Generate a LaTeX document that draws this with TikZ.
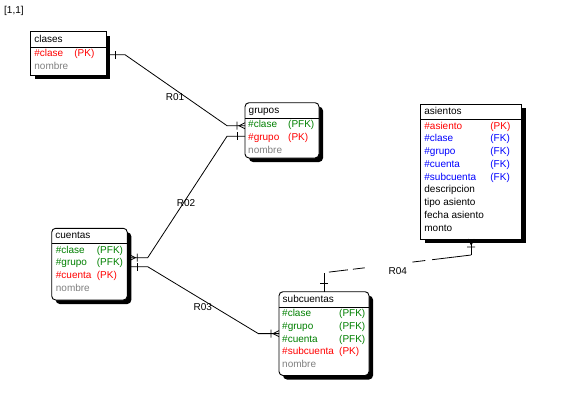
\documentclass[tikz,border=0pt]{standalone}
\usepackage{fontspec}
\setmainfont{Liberation Sans}
\usetikzlibrary{calc,shadows}

\definecolor{pkred}{RGB}{255,0,0}
\definecolor{pfkgreen}{RGB}{0,128,0}
\definecolor{fkblue}{RGB}{0,0,255}
\definecolor{attrgray}{RGB}{128,128,128}
\newcommand{\erfont}{\fontsize{10}{12}\selectfont}

\tikzset{
  entity/.style={draw, line width=0.9pt, fill=white, inner sep=0pt, outer sep=0pt,
    drop shadow={shadow xshift=4pt, shadow yshift=-4pt, fill=black, opacity=1}},
  entityr/.style={entity, rounded corners=4pt},
  attr/.style={anchor=mid west, inner sep=0pt, font=\erfont},
  rel/.style={line width=0.8pt},
  lbl/.style={inner sep=0pt, font=\erfont},
  onemark/.pic={\draw[rel] (-8,-4) -- (-8,4);},
  manymark/.pic={\draw[rel] (-8,-4) -- (-8,4) (0,-3) -- (-6,0) -- (0,3);},
}

\begin{document}
\begin{tikzpicture}[x=1pt,y=-1pt]
    \useasboundingbox (0,0) rectangle (567,412);

    \node[attr] (view) at (4,11) {[1,1]};

    % entities
    \node[entity, minimum width=75.3pt, minimum height=43.3pt] (clases) at (68.35,53.35) {};
    \node[entityr, minimum width=74pt, minimum height=55.3pt] (grupos) at (282,130.35) {};
    \node[entity, minimum width=101pt, minimum height=134.7pt] (asientos) at (471.2,171.65) {};
    \node[entityr, minimum width=75.6pt, minimum height=71.7pt] (cuentas) at (89.5,264.15) {};
    \node[entityr, minimum width=90pt, minimum height=83.8pt] (subcuentas) at (324,333.6) {};

    % headers and separators
    \foreach \e in {clases,grupos,asientos,cuentas,subcuentas} {
        \node[attr] (\e-h) at ($(\e.north west)+(3.5,8)$) {\e};
        \draw[line width=0.9pt] ($(\e.north west)+(0,15.5)$) -- ($(\e.north east)+(0,15.5)$);
    }

    % attributes
    \foreach \txt/\key/\col [count=\i] in {\#clase/(PK)/pkred, nombre//attrgray} {
        \node[attr,\col] (cl-\i) at ($(clases.north west)+(3.5,9.55+12.75*\i)$) {\txt};
        \node[attr,\col] (cl-\i k) at ($(clases.north west)+(43.5,9.55+12.75*\i)$) {\key};
    }
    \foreach \txt/\key/\col [count=\i] in {\#clase/(PFK)/pfkgreen, \#grupo/(PK)/pkred, nombre//attrgray} {
        \node[attr,\col] (gr-\i) at ($(grupos.north west)+(3,9.55+12.75*\i)$) {\txt};
        \node[attr,\col] (gr-\i k) at ($(grupos.north west)+(43,9.55+12.75*\i)$) {\key};
    }
    \foreach \txt/\key/\col [count=\i] in {\#asiento/(PK)/pkred, \#clase/(FK)/fkblue,
        \#grupo/(FK)/fkblue, \#cuenta/(FK)/fkblue, \#subcuenta/(FK)/fkblue,
        descripcion//black, tipo asiento//black, fecha asiento//black, monto//black} {
        \node[attr,\col] (as-\i) at ($(asientos.north west)+(3.5,9.55+12.75*\i)$) {\txt};
        \node[attr,\col] (as-\i k) at ($(asientos.north west)+(69.5,9.55+12.75*\i)$) {\key};
    }
    \foreach \txt/\key/\col [count=\i] in {\#clase/(PFK)/pfkgreen, \#grupo/(PFK)/pfkgreen,
        \#cuenta/(PK)/pkred, nombre//attrgray} {
        \node[attr,\col] (cu-\i) at ($(cuentas.north west)+(4,9.55+12.75*\i)$) {\txt};
        \node[attr,\col] (cu-\i k) at ($(cuentas.north west)+(45,9.55+12.75*\i)$) {\key};
    }
    \foreach \txt/\key/\col [count=\i] in {\#clase/(PFK)/pfkgreen, \#grupo/(PFK)/pfkgreen,
        \#cuenta/(PFK)/pfkgreen, \#subcuenta/(PK)/pkred, nombre//attrgray} {
        \node[attr,\col] (sc-\i) at ($(subcuentas.north west)+(3,9.55+12.75*\i)$) {\txt};
        \node[attr,\col] (sc-\i k) at ($(subcuentas.north west)+(60,9.55+12.75*\i)$) {\key};
    }

    % relationship end points
    \coordinate (r01-a) at ($(clases.north east)+(0,23)$);
    \coordinate (r01-b) at ($(grupos.north west)+(0,23)$);
    \coordinate (r02-a) at ($(cuentas.north east)+(0,29.4)$);
    \coordinate (r02-b) at ($(grupos.north west)+(0,33.6)$);
    \coordinate (r03-a) at ($(cuentas.north east)+(0,38.4)$);
    \coordinate (r03-b) at (subcuentas.west);

    % R01 clases -> grupos
    \draw[rel] (r01-a) -- ++(19,0) -- ($(r01-b)+(-18,0)$) -- (r01-b);
    \pic[rotate=180] at ($(r01-a)+(1,0)$) {onemark};
    \pic at (r01-b) {manymark};
    \node[lbl] (r01-l) at (175,96.7) {R01};

    % R02 grupos -> cuentas
    \draw[rel] (r02-a) -- ++(20.4,0) -- ($(r02-b)+(-18,0)$) -- (r02-b);
    \pic at (r02-b) {onemark};
    \pic[rotate=180] at ($(r02-a)+(2,0)$) {manymark};
    \node[lbl] (r02-l) at (186,203) {R02};

    % R03 cuentas -> subcuentas
    \draw[rel] (r03-a) -- ++(20.4,0) -- ($(r03-b)+(-20.7,0)$) -- (r03-b);
    \pic[rotate=180] at ($(r03-a)+(2,0)$) {onemark};
    \pic at (r03-b) {manymark};
    \node[lbl] (r03-l) at (202.7,306.7) {R03};

    % R04 subcuentas -> asientos (non identifying)
    \draw[rel] (asientos.south) -- ++(0,16) coordinate (r04-a);
    \draw[rel] (subcuentas.north) -- ++(0,-19) coordinate (r04-b);
    \draw[rel, dash pattern={on 0pt off 5pt on 19pt off 5pt on 12pt off 48pt on 13pt off 7pt on 60pt}]
        (r04-b) -- (r04-a);
    \pic[rotate=90] at (asientos.south) {manymark};
    \pic[rotate=-90] at (subcuentas.north) {onemark};
    \node[lbl] (r04-l) at (397.7,271) {R04};
\end{tikzpicture}
\end{document}
